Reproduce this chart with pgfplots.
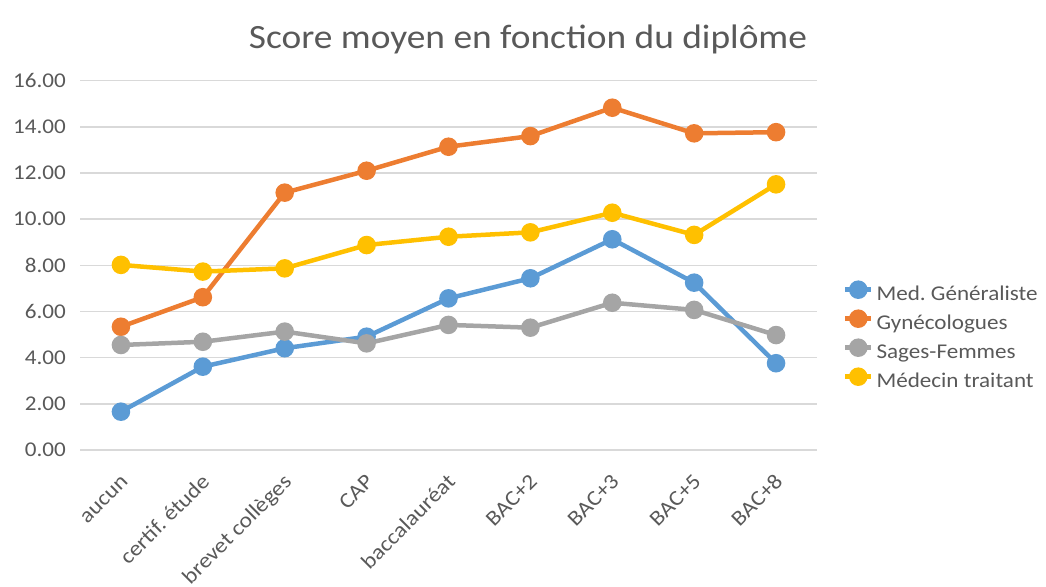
\documentclass[border=0pt]{standalone}
\usepackage{fontspec}
\setmainfont{Carlito}[FakeStretch=1.1]
\usepackage{pgfplots}
\pgfplotsset{compat=1.18}
\definecolor{cblue}{HTML}{5B9BD5}
\definecolor{corange}{HTML}{ED7D31}
\definecolor{cgray}{HTML}{A5A5A5}
\definecolor{cyellow}{HTML}{FFC000}
\definecolor{txt}{HTML}{595959}
\definecolor{grid}{HTML}{D9D9D9}
\frenchspacing
\begin{document}
\begin{tikzpicture}
\path[use as bounding box] (0,0) rectangle (1046bp,-587bp);
\node[anchor=base, text=txt, font=\fontsize{34bp}{40bp}\selectfont, inner sep=0] at (528bp,-48bp) {Score moyen en fonction du diplôme};
\begin{axis}[
  at={(80bp,-450bp)}, anchor=south west,
  scale only axis, width=737bp, height=369.3bp,
  xmin=-0.5, xmax=8.5, ymin=0, ymax=16,
  clip=false,
  axis line style={draw=none},
  major tick length=0,
  ymajorgrids, grid style={color=grid, line width=1.4bp},
  ytick={0,2,...,16},
  yticklabels={0.00,2.00,4.00,6.00,8.00,10.00,12.00,14.00,16.00},
  yticklabel style={anchor=east, inner sep=0, xshift=-14bp, text=txt, font=\fontsize{21bp}{25bp}\selectfont},
  xtick={0,...,8},
  xticklabels={aucun,certif.\ étude,brevet collèges,CAP,baccalauréat,BAC+2,BAC+3,BAC+5,BAC+8},
  xticklabel style={xshift=-2bp, yshift=-23bp, rotate=45, anchor=north east, inner sep=0, text height=14bp, text depth=4bp, text=txt, font=\fontsize{21.5bp}{25bp}\selectfont},
  every axis plot/.append style={line width=4.5bp, mark=*, mark size=7bp, mark options={solid}},
  legend image code/.code={\draw[mark repeat=2,mark phase=2,yshift=6bp,#1] plot coordinates {(0bp,0bp)(13bp,0bp)(26bp,0bp)};},
  legend style={at={(1.031,0.459)}, anchor=north west, draw=none, fill=none,
    font=\fontsize{21bp}{25bp}\selectfont, text=txt,
    nodes={inner sep=0pt, text height=15bp, text depth=5bp},
    row sep=6bp, column sep=3bp},
  legend cell align=left,
]
\addplot[color=cblue] coordinates {(0,1.66)(1,3.61)(2,4.41)(3,4.91)(4,6.57)(5,7.44)(6,9.13)(7,7.25)(8,3.76)};
\addlegendentry{Med.\ Généraliste}
\addplot[color=corange] coordinates {(0,5.34)(1,6.62)(2,11.15)(3,12.10)(4,13.14)(5,13.60)(6,14.83)(7,13.72)(8,13.77)};
\addlegendentry{Gynécologues}
\addplot[color=cgray] coordinates {(0,4.55)(1,4.69)(2,5.13)(3,4.62)(4,5.42)(5,5.30)(6,6.38)(7,6.07)(8,4.98)};
\addlegendentry{Sages-Femmes}
\addplot[color=cyellow] coordinates {(0,8.02)(1,7.73)(2,7.87)(3,8.88)(4,9.24)(5,9.43)(6,10.28)(7,9.32)(8,11.51)};
\addlegendentry{Médecin traitant}
\end{axis}
\end{tikzpicture}
\end{document}
